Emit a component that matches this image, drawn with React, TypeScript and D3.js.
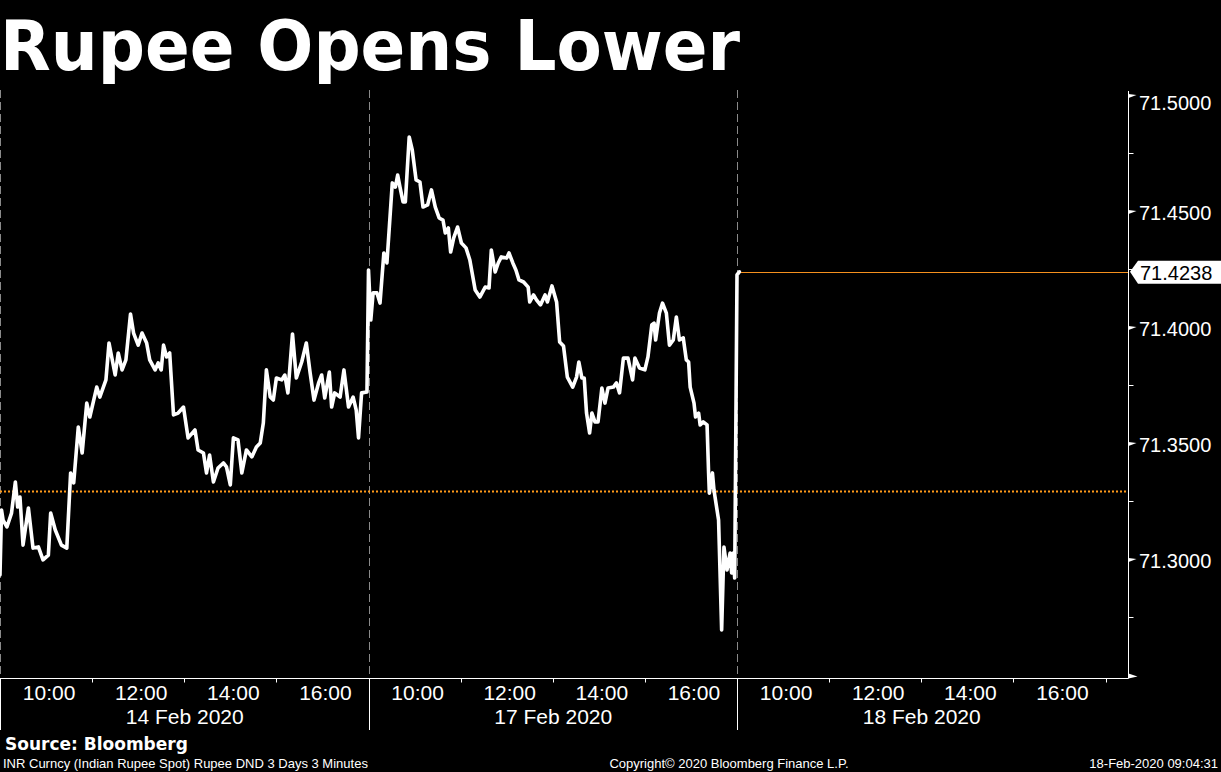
import React, { useEffect } from "react";
import * as d3 from "d3";

const W = 1221;
const H = 772;

const titleText = "Rupee Opens Lower";
const sourceText = "Source: Bloomberg";
const footLeft = "INR Curncy (Indian Rupee Spot) Rupee DND 3 Days 3 Minutes";
const footMid = "Copyright\u00A9 2020 Bloomberg Finance L.P.";
const footRight = "18-Feb-2020 09:04:31";

const sessionDates = ["14 Feb 2020", "17 Feb 2020", "18 Feb 2020"];
const hourLabels = ["10:00", "12:00", "14:00", "16:00"];
const minorHours = [11, 13, 15, 17];
const yTicks = [71.3, 71.35, 71.4, 71.45, 71.5];
const yMinorTicks = [71.275, 71.325, 71.375, 71.425, 71.475];
const lastPrice = 71.4238;
const prevClose = 71.3293;

const day1Times = [
  "09:00","09:02","09:04","09:09","09:15","09:20","09:23","09:26","09:30","09:37",
  "09:43","09:50","09:56","10:03","10:06","10:12","10:20","10:27","10:32","10:36",
  "10:42","10:47","10:53","10:57","11:06","11:10","11:18","11:22","11:30","11:34",
  "11:39","11:44","11:50","11:54","12:00","12:05","12:11","12:15","12:22","12:26",
  "12:30","12:33","12:37","12:41","12:46","12:52","12:59","13:05","13:14","13:18",
  "13:25","13:29","13:33","13:38","13:44","13:51","13:55","14:00","14:04","14:10",
  "14:15","14:21","14:28","14:34","14:39","14:43","14:47","14:52","14:56","15:00",
  "15:07","15:11","15:15","15:21","15:26","15:33","15:39","15:44","15:49","15:55",
  "15:59","16:03","16:09","16:12","16:16","16:23","16:28","16:34","16:40","16:44",
  "16:47","16:51","16:58",
];
const day1Values = [
  71.2931, 71.3211, 71.3168, 71.3138, 71.3198, 71.3332, 71.3224, 71.3267, 71.306, 71.322,
  71.3047, 71.3052, 71.2996, 71.3017, 71.3198, 71.3125, 71.306, 71.3047, 71.3371, 71.3328,
  71.3569, 71.3457, 71.3672, 71.3612, 71.3741, 71.3698, 71.3772, 71.3931, 71.3793, 71.3888,
  71.3815, 71.3858, 71.4056, 71.3974, 71.3922, 71.3974, 71.3931, 71.3858, 71.3815, 71.3845,
  71.3815, 71.3922, 71.3871, 71.3888, 71.3621, 71.3629, 71.3655, 71.3522, 71.3556, 71.347,
  71.3457, 71.3371, 71.3448, 71.3332, 71.3392, 71.3414, 71.3397, 71.3319, 71.3522, 71.3513,
  71.3371, 71.347, 71.344, 71.3483, 71.35, 71.3586, 71.3815, 71.3698, 71.3685, 71.378,
  71.3772, 71.3793, 71.3716, 71.397, 71.378, 71.3849, 71.3931, 71.3802, 71.3685, 71.3759,
  71.3793, 71.3694, 71.3806, 71.3655, 71.3716, 71.3698, 71.3815, 71.3655, 71.3698, 71.3642,
  71.3522, 71.3716, 71.372,
];

const day2Times = [
  "09:00","09:03","09:06","09:11","09:15","09:20","09:24","09:31","09:35","09:38",
  "09:41","09:45","09:48","09:53","09:57","10:02","10:07","10:11","10:17","10:22",
  "10:27","10:32","10:37","10:40","10:44","10:47","10:51","10:56","11:01","11:07",
  "11:12","11:19","11:25","11:32","11:37","11:40","11:45","11:49","11:53","12:00",
  "12:03","12:08","12:12","12:16","12:22","12:28","12:30","12:35","12:39","12:44",
  "12:50","12:53","12:59","13:05","13:09","13:14","13:19","13:26","13:31","13:34",
  "13:38","13:41","13:44","13:48","13:51","13:55","13:59","14:04","14:08","14:12",
  "14:19","14:23","14:27","14:32","14:38","14:44","14:47","14:53","15:00","15:04",
  "15:09","15:12","15:14","15:19","15:23","15:28","15:32","15:37","15:41","15:45",
  "15:50","15:54","15:57","15:59","16:04","16:06","16:10","16:12","16:16","16:21",
  "16:23","16:24","16:28","16:30","16:36","16:40","16:43","16:47","16:51","16:53",
  "16:55","16:57",
];
const day2Values = [
  71.4246, 71.403, 71.4147, 71.4147, 71.4103, 71.4319, 71.4276, 71.4621, 71.4603, 71.4655,
  71.4603, 71.4539, 71.4539, 71.4819, 71.4763, 71.4634, 71.4625, 71.4517, 71.4526, 71.4591,
  71.4517, 71.447, 71.4461, 71.4405, 71.4427, 71.4323, 71.4384, 71.4431, 71.4362, 71.4341,
  71.4289, 71.4159, 71.4129, 71.4172, 71.4168, 71.4332, 71.4237, 71.4276, 71.4302, 71.4297,
  71.4319, 71.4276, 71.4246, 71.4203, 71.4194, 71.4172, 71.4108, 71.4138, 71.4116, 71.4095,
  71.4138, 71.4108, 71.4177, 71.4108, 71.3935, 71.3918, 71.3784, 71.3741, 71.3784, 71.3849,
  71.378, 71.378, 71.3629, 71.3543, 71.3629, 71.3591, 71.3591, 71.3737, 71.3672, 71.3737,
  71.3741, 71.3759, 71.3716, 71.3866, 71.3866, 71.3772, 71.3866, 71.3823, 71.3815, 71.3871,
  71.4009, 71.4017, 71.3944, 71.406, 71.4103, 71.406, 71.3922, 71.3944, 71.4043, 71.3944,
  71.3953, 71.3858, 71.3849, 71.3741, 71.3672, 71.3612, 71.3629, 71.3578, 71.3591, 71.3578,
  71.3371, 71.3284, 71.3371, 71.3297, 71.3168, 71.2694, 71.3052, 71.2953, 71.3026, 71.294,
  71.3026, 71.2918,
];

const day3Times = ["09:00", "09:03"];
const day3Values = [71.4225, 71.4238];

const SESSION_MIN = 480;
const toMin = (t: string) => {
  const [h, m] = t.split(":").map(Number);
  return (h - 9) * 60 + m;
};

export default function App() {
  useEffect(() => {
    document.body.style.margin = "0";
    document.body.style.background = "#000";
  }, []);

  const x = d3.scaleLinear().domain([0, 3 * SESSION_MIN]).range([0, 1105.5]);
  const y = d3.scaleLinear().domain([71.25, 71.5]).range([675, 95]);

  const axisX = 1128.5;
  const axisY = 678.5;
  const plotTop = 90;

  const points: [number, number][] = [];
  [
    [day1Times, day1Values],
    [day2Times, day2Values],
    [day3Times, day3Values],
  ].forEach(([times, vals], d) => {
    (times as string[]).forEach((t, i) => {
      points.push([d * SESSION_MIN + toMin(t), (vals as number[])[i]]);
    });
  });

  const line = d3
    .line<[number, number]>()
    .x((p) => x(p[0]))
    .y((p) => y(p[1]))
    .curve(d3.curveLinear);

  const lastX = x(points[points.length - 1][0]);
  const orange = "#f5901e";
  const axisFont = "'Liberation Sans', Arial, sans-serif";

  return (
    <svg
      width={W}
      height={H}
      style={{ position: "absolute", left: 0, top: 0, background: "#000", display: "block" }}
    >
      <rect x={0} y={0} width={W} height={H} fill="#000" />
      <text
        x={0}
        y={70}
        fill="#fff"
        fontFamily="'DejaVu Sans', sans-serif"
        fontWeight="bold"
        fontSize={69}
        textLength={740}
        lengthAdjust="spacingAndGlyphs"
      >
        {titleText}
      </text>

      {/* session separators (dashed in plot) */}
      {[0, 1, 2].map((d) => {
        const sx = Math.round(x(d * SESSION_MIN)) + 0.5;
        return (
          <g key={"sep" + d}>
            <line
              x1={sx}
              x2={sx}
              y1={plotTop}
              y2={axisY}
              stroke="#8a8a8a"
              strokeWidth={1}
              strokeDasharray="8,4"
            />
            <line x1={sx} x2={sx} y1={axisY} y2={730} stroke="#fff" strokeWidth={1} />
          </g>
        );
      })}

      {/* previous close dotted line */}
      <line
        x1={0}
        x2={axisX}
        y1={Math.round(y(prevClose)) + 0.5}
        y2={Math.round(y(prevClose)) + 0.5}
        stroke="#ff9a1a"
        strokeWidth={2}
        strokeDasharray="2,2"
      />

      {/* last price line */}
      <line
        x1={lastX}
        x2={axisX}
        y1={Math.round(y(lastPrice)) + 0.5}
        y2={Math.round(y(lastPrice)) + 0.5}
        stroke={orange}
        strokeWidth={1}
      />

      {/* price line */}
      <path
        d={line(points) || ""}
        fill="none"
        stroke="#fff"
        strokeWidth={3.6}
        strokeLinejoin="round"
        strokeLinecap="round"
      />

      {/* axes */}
      <line x1={axisX} x2={axisX} y1={91} y2={axisY} stroke="#fff" strokeWidth={1} />
      <line x1={0} x2={axisX} y1={axisY} y2={axisY} stroke="#fff" strokeWidth={1} />
      <polygon
        points={`${axisX},${axisY - 5} ${axisX + 9},${axisY - 2} ${axisX},${axisY}`}
        fill="#fff"
      />

      {/* y ticks */}
      {yTicks.map((v) => {
        const ty = Math.round(y(v));
        const baseline = Math.max(ty + 9, 110);
        return (
          <g key={"yt" + v}>
            <polygon
              points={`${axisX},${ty - 1} ${axisX + 8},${ty} ${axisX},${ty + 3}`}
              fill="#fff"
            />
            <text x={1139} y={baseline} fill="#fff" fontFamily={axisFont} fontSize={20}>
              {v.toFixed(4)}
            </text>
          </g>
        );
      })}
      {yMinorTicks.map((v) => {
        const ty = Math.round(y(v)) + 0.5;
        return (
          <line
            key={"ym" + v}
            x1={axisX}
            x2={axisX + 5}
            y1={ty}
            y2={ty}
            stroke="#fff"
            strokeWidth={1}
          />
        );
      })}

      {/* last price tag */}
      {(() => {
        const ty = y(lastPrice);
        return (
          <g>
            <polygon
              points={`${1130},${ty} ${1138},${ty - 11} ${W},${ty - 11} ${W},${ty + 12} ${1138},${ty + 12}`}
              fill="#fff"
            />
            <text x={1140} y={ty + 8} fill="#000" fontFamily={axisFont} fontSize={20}>
              {lastPrice.toFixed(4)}
            </text>
          </g>
        );
      })()}

      {/* x ticks and labels */}
      {[0, 1, 2].map((d) => (
        <g key={"xd" + d}>
          {minorHours.map((h) => {
            const tx = Math.round(x(d * SESSION_MIN + (h - 9) * 60)) + 0.5;
            return (
              <line
                key={"xm" + h}
                x1={tx}
                x2={tx}
                y1={axisY}
                y2={axisY + 4}
                stroke="#fff"
                strokeWidth={1}
              />
            );
          })}
          {hourLabels.map((lab) => {
            const tx = x(d * SESSION_MIN + toMin(lab)) + 3;
            return (
              <text
                key={"xl" + lab}
                x={tx}
                y={700}
                fill="#fff"
                textAnchor="middle"
                fontFamily={axisFont}
                fontSize={21}
              >
                {lab}
              </text>
            );
          })}
          <text
            x={x(d * SESSION_MIN + SESSION_MIN / 2) + 0.5}
            y={724}
            fill="#fff"
            textAnchor="middle"
            fontFamily={axisFont}
            fontSize={21}
          >
            {sessionDates[d]}
          </text>
        </g>
      ))}

      {/* footer */}
      <text
        x={5}
        y={750}
        fill="#fff"
        fontFamily="'DejaVu Sans', sans-serif"
        fontWeight="bold"
        fontSize={17}
      >
        {sourceText}
      </text>
      <text x={3} y={768} fill="#fff" fontFamily={axisFont} fontSize={13}>
        {footLeft}
      </text>
      <text x={729} y={768} fill="#fff" textAnchor="middle" fontFamily={axisFont} fontSize={13}>
        {footMid}
      </text>
      <text x={1218} y={768} fill="#fff" textAnchor="end" fontFamily={axisFont} fontSize={13}>
        {footRight}
      </text>
    </svg>
  );
}
